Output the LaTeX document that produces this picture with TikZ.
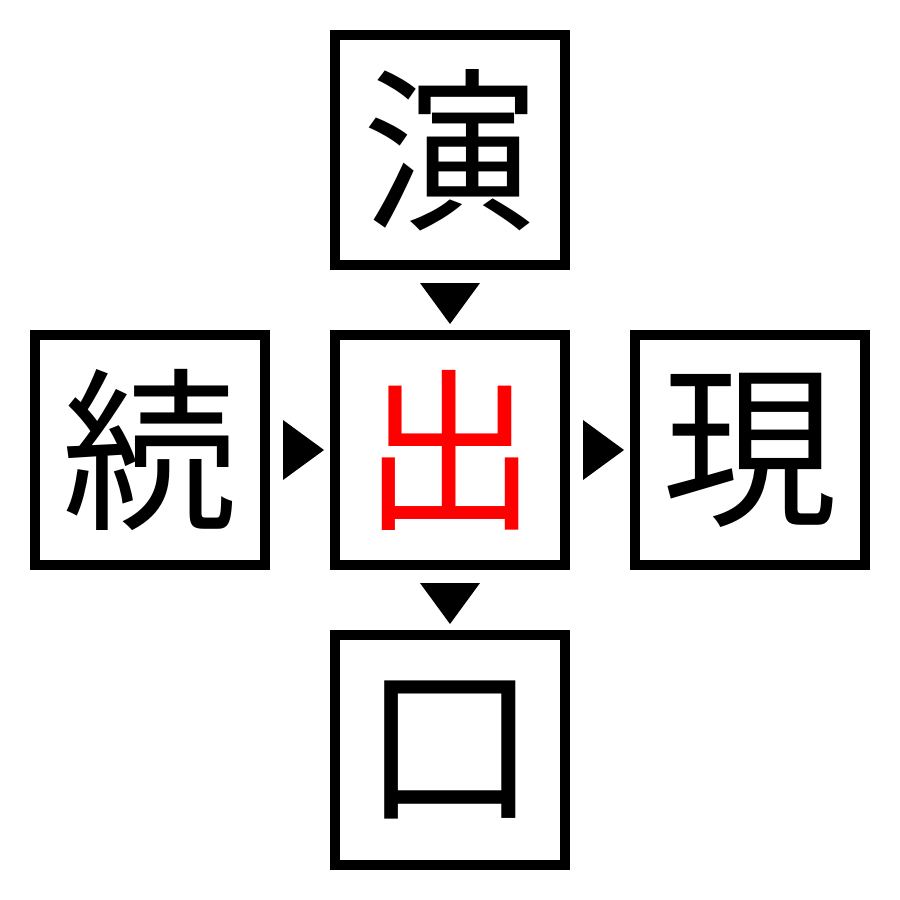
\documentclass[tikz,border=0pt]{standalone}
\usepackage{fontspec}
\newfontfamily\cjk{Noto Sans CJK JP}
\begin{document}
\begin{tikzpicture}[x=1pt,y=-1pt,
  kbox/.style={draw=black,line width=10pt,minimum size=230pt,inner sep=0pt,font=\cjk\fontsize{175}{175}\selectfont,fill=white},
  tri/.style={fill=black,draw=none}]
\useasboundingbox (0,0) rectangle (900,900);
\node[kbox] (top) at (450,150) {演};
\node[kbox] (left) at (150,450) {続};
\node[kbox,text=red] (center) at (450,450) {出};
\node[kbox] (right) at (750,450) {現};
\node[kbox] (bottom) at (450,750) {口};
\fill[tri] (420,283) -- (480,283) -- (450,324) -- cycle;
\fill[tri] (420,583) -- (480,583) -- (450,624) -- cycle;
\fill[tri] (283,420) -- (283,480) -- (324,450) -- cycle;
\fill[tri] (583,420) -- (583,480) -- (624,450) -- cycle;
\end{tikzpicture}
\end{document}
